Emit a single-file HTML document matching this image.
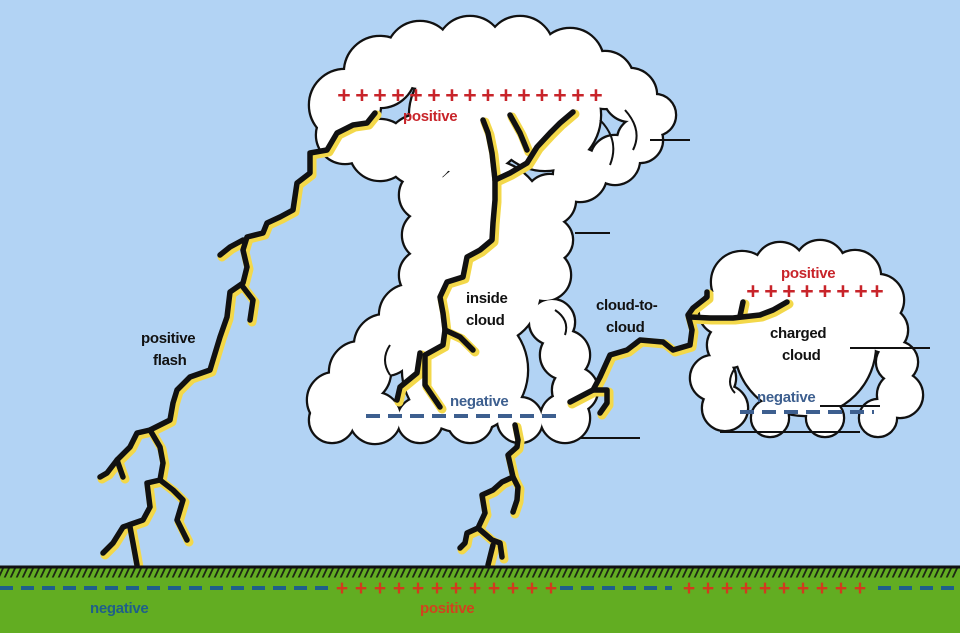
<!DOCTYPE html>
<html><head><meta charset="utf-8"><style>
html,body{margin:0;padding:0;}
body{width:960px;height:633px;overflow:hidden;background:#b2d3f4;}
svg{display:block}
text{font-family:"Liberation Sans",sans-serif;font-weight:bold;}
</style></head><body>
<svg width="960" height="633" viewBox="0 0 960 633" xmlns="http://www.w3.org/2000/svg">
<rect width="960" height="633" fill="#b2d3f4"/>
<defs>
<g id="mc">
<circle cx="345" cy="105" r="35"/><circle cx="380" cy="72" r="35"/><circle cx="420" cy="55" r="33"/><circle cx="470" cy="50" r="33"/><circle cx="520" cy="50" r="33"/><circle cx="570" cy="62" r="33"/><circle cx="605" cy="80" r="28"/><circle cx="630" cy="95" r="26"/><circle cx="655" cy="115" r="20"/><circle cx="640" cy="140" r="22"/><circle cx="615" cy="160" r="24"/><circle cx="580" cy="175" r="26"/><circle cx="345" cy="135" r="28"/><circle cx="380" cy="150" r="30"/><circle cx="420" cy="150" r="35"/><circle cx="470" cy="115" r="60"/><circle cx="545" cy="115" r="55"/>
<circle cx="425" cy="195" r="25"/><circle cx="428" cy="235" r="25"/><circle cx="425" cy="275" r="25"/><circle cx="550" cy="200" r="25"/><circle cx="550" cy="240" r="22"/><circle cx="545" cy="275" r="25"/><circle cx="485" cy="220" r="60"/><circle cx="485" cy="290" r="55"/>
<circle cx="410" cy="315" r="30"/><circle cx="385" cy="345" r="30"/><circle cx="360" cy="372" r="30"/><circle cx="335" cy="400" r="27"/><circle cx="332" cy="420" r="22"/><circle cx="375" cy="418" r="25"/><circle cx="420" cy="420" r="22"/><circle cx="470" cy="420" r="22"/><circle cx="520" cy="420" r="22"/><circle cx="565" cy="418" r="24"/><circle cx="575" cy="390" r="22"/><circle cx="565" cy="355" r="24"/><circle cx="552" cy="322" r="22"/><circle cx="465" cy="370" r="62"/>
</g>
<g id="sc">
<circle cx="742" cy="282" r="30"/><circle cx="780" cy="268" r="25"/><circle cx="820" cy="266" r="25"/><circle cx="855" cy="276" r="25"/><circle cx="878" cy="300" r="25"/><circle cx="885" cy="330" r="22"/><circle cx="897" cy="362" r="20"/><circle cx="900" cy="395" r="22"/><circle cx="878" cy="418" r="18"/><circle cx="825" cy="418" r="18"/><circle cx="770" cy="418" r="18"/><circle cx="725" cy="408" r="22"/><circle cx="713" cy="378" r="22"/><circle cx="730" cy="345" r="22"/><circle cx="722" cy="312" r="22"/><circle cx="805" cy="345" r="70"/>
</g>
</defs>
<g fill="none" stroke="#111" stroke-width="4.5"><use href="#mc"/><use href="#sc"/></g>
<g fill="#fff"><use href="#mc"/><use href="#sc"/></g>
<g fill="none" stroke="#111" stroke-width="2">
<path d="M600,120 q20,20 10,45"/><path d="M625,110 q18,20 8,40"/><path d="M390,345 q-10,15 0,30"/><path d="M555,310 q15,10 10,25"/><path d="M735,368 q-10,15 0,25"/>
</g>
<g stroke="#111" stroke-width="2">
<line x1="580" y1="438" x2="640" y2="438"/><line x1="575" y1="233" x2="610" y2="233"/><line x1="650" y1="140" x2="690" y2="140"/><line x1="850" y1="348" x2="930" y2="348"/><line x1="720" y1="432" x2="860" y2="432"/><line x1="820" y1="406" x2="880" y2="406"/>
</g>
<!-- lightning -->
<g fill="none" stroke-linejoin="round" stroke-linecap="round">
<g stroke="#f3d84a" stroke-width="9" transform="translate(2,2)">
<polyline points="375,113 367,123 353,125 337,133 327,150 310,153 310,173 297,183 293,210 280,217 267,223 263,233 247,237 243,250 247,267 243,283 230,292 227,317 220,337 213,360 210,370 190,377 177,390 173,403 170,420 150,430 137,433 130,447 117,460 107,473 100,477"/>
<polyline points="243,240 230,247 220,255"/><polyline points="243,287 253,300 250,320"/>
<polyline points="150,430 160,447 163,463 160,480 147,483 150,507 143,520 123,527 113,543 103,553"/>
<polyline points="130,527 133,543 137,565"/><polyline points="160,480 173,490 183,500 177,520 187,540"/><polyline points="117,460 123,477"/>
<polyline points="483,120 488,133 492,153 495,180 495,200 493,223 492,240 480,250 467,257 463,277 447,282 440,297 443,313 445,330 443,345 425,355 425,385 440,407"/>
<polyline points="445,330 460,337 473,350"/><polyline points="420,353 417,373 400,387 397,400"/>
<polyline points="495,180 510,173 527,163 537,147 550,133 560,123 573,112"/><polyline points="527,150 520,133 510,115"/>
<polyline points="570,402 593,390 600,377 610,355 627,350 640,340 663,342 673,350 690,345 692,330 688,315 693,308 707,297 707,292"/>
<polyline points="690,317 710,318 733,318 760,315 773,310 787,302"/><polyline points="740,316 743,302"/><polyline points="593,390 607,390 607,403 600,413"/>
<polyline points="515,425 518,440 517,447 508,455 513,477 502,482 493,490 482,495 485,513 478,528 467,533 465,543 460,548"/>
<polyline points="513,477 518,487 517,500 513,512"/><polyline points="478,528 492,540 500,543 502,557"/><polyline points="493,545 488,565"/>
</g>
<g stroke="#111" stroke-width="5.5">
<polyline points="375,113 367,123 353,125 337,133 327,150 310,153 310,173 297,183 293,210 280,217 267,223 263,233 247,237 243,250 247,267 243,283 230,292 227,317 220,337 213,360 210,370 190,377 177,390 173,403 170,420 150,430 137,433 130,447 117,460 107,473 100,477"/>
<polyline points="243,240 230,247 220,255"/><polyline points="243,287 253,300 250,320"/>
<polyline points="150,430 160,447 163,463 160,480 147,483 150,507 143,520 123,527 113,543 103,553"/>
<polyline points="130,527 133,543 137,565"/><polyline points="160,480 173,490 183,500 177,520 187,540"/><polyline points="117,460 123,477"/>
<polyline points="483,120 488,133 492,153 495,180 495,200 493,223 492,240 480,250 467,257 463,277 447,282 440,297 443,313 445,330 443,345 425,355 425,385 440,407"/>
<polyline points="445,330 460,337 473,350"/><polyline points="420,353 417,373 400,387 397,400"/>
<polyline points="495,180 510,173 527,163 537,147 550,133 560,123 573,112"/><polyline points="527,150 520,133 510,115"/>
<polyline points="570,402 593,390 600,377 610,355 627,350 640,340 663,342 673,350 690,345 692,330 688,315 693,308 707,297 707,292"/>
<polyline points="690,317 710,318 733,318 760,315 773,310 787,302"/><polyline points="740,316 743,302"/><polyline points="593,390 607,390 607,403 600,413"/>
<polyline points="515,425 518,440 517,447 508,455 513,477 502,482 493,490 482,495 485,513 478,528 467,533 465,543 460,548"/>
<polyline points="513,477 518,487 517,500 513,512"/><polyline points="478,528 492,540 500,543 502,557"/><polyline points="493,545 488,565"/>
</g>
</g>
<!-- ground -->
<rect x="0" y="567" width="960" height="66" fill="#62ad22"/>
<line x1="0" y1="567" x2="960" y2="567" stroke="#111" stroke-width="3"/>
<line x1="0" y1="573" x2="960" y2="573" stroke="#111" stroke-width="9" stroke-dasharray="2 4" transform="skewX(-25) translate(267,0)" opacity="0.85"/>
<g stroke="#1f5f8a" stroke-width="4">
<line x1="0" y1="588" x2="330" y2="588" stroke-dasharray="13 8"/>
<line x1="560" y1="588" x2="672" y2="588" stroke-dasharray="13 8"/>
<line x1="878" y1="588" x2="960" y2="588" stroke-dasharray="13 8"/>
</g>
<g font-size="21" fill="#d23a1e" text-anchor="middle" font-weight="bold">
<text x="342" y="595">+</text><text x="361" y="595">+</text><text x="380" y="595">+</text><text x="399" y="595">+</text><text x="418" y="595">+</text><text x="437" y="595">+</text><text x="456" y="595">+</text><text x="475" y="595">+</text><text x="494" y="595">+</text><text x="513" y="595">+</text><text x="532" y="595">+</text><text x="551" y="595">+</text>
<text x="689" y="595">+</text><text x="708" y="595">+</text><text x="727" y="595">+</text><text x="746" y="595">+</text><text x="765" y="595">+</text><text x="784" y="595">+</text><text x="803" y="595">+</text><text x="822" y="595">+</text><text x="841" y="595">+</text><text x="860" y="595">+</text>
</g>
<!-- cloud charges -->
<g font-size="23" fill="#c8242a" text-anchor="middle">
<text x="344" y="103">+</text><text x="362" y="103">+</text><text x="380" y="103">+</text><text x="398" y="103">+</text><text x="416" y="103">+</text><text x="434" y="103">+</text><text x="452" y="103">+</text><text x="470" y="103">+</text><text x="488" y="103">+</text><text x="506" y="103">+</text><text x="524" y="103">+</text><text x="542" y="103">+</text><text x="560" y="103">+</text><text x="578" y="103">+</text><text x="596" y="103">+</text>
<text x="753" y="299">+</text><text x="771" y="299">+</text><text x="789" y="299">+</text><text x="807" y="299">+</text><text x="825" y="299">+</text><text x="843" y="299">+</text><text x="861" y="299">+</text><text x="877" y="299">+</text>
</g>
<g stroke="#3d5f8f" stroke-width="4">
<line x1="366" y1="416" x2="556" y2="416" stroke-dasharray="14 8"/>
<line x1="740" y1="412" x2="874" y2="412" stroke-dasharray="14 8"/>
</g>
<!-- labels -->
<g font-size="15" letter-spacing="-0.3">
<text x="403" y="121" fill="#c8242a">positive</text>
<text x="781" y="278" fill="#c8242a">positive</text>
<text x="420" y="613" fill="#d2431e">positive</text>
<text x="450" y="406" fill="#3d5f8f">negative</text>
<text x="757" y="402" fill="#3d5f8f">negative</text>
<text x="90" y="613" fill="#1f5f8a">negative</text>
<g fill="#111">
<text x="466" y="303">inside</text><text x="466" y="325">cloud</text>
<text x="596" y="310">cloud-to-</text><text x="606" y="332">cloud</text>
<text x="770" y="338">charged</text><text x="782" y="360">cloud</text>
<text x="141" y="343">positive</text><text x="153" y="365">flash</text>
</g>
</g>
</svg>
</body></html>
